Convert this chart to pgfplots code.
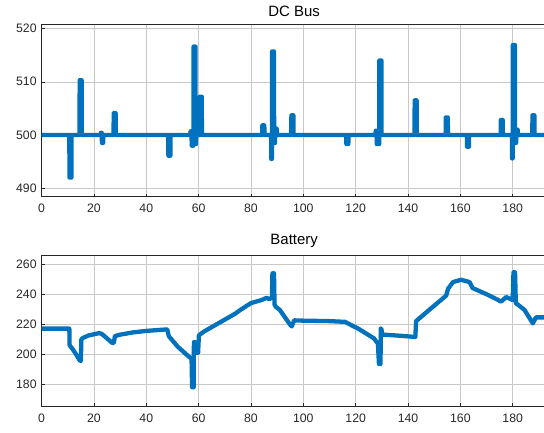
\documentclass[border=0pt]{standalone}
\usepackage{pgfplots}
\pgfplotsset{compat=1.18}
\usepackage{fontspec}
\setmainfont{Liberation Sans}
\definecolor{mblue}{RGB}{0,114,189}
\definecolor{mframe}{RGB}{38,38,38}
\definecolor{mgrid}{RGB}{200,200,200}
\pgfplotsset{
  mstyle/.style={
    scale only axis,
    width=505.1bp,
    xmin=0, xmax=193,
    xtick={0,20,...,180},
    grid=major,
    major grid style={mgrid, line width=0.5pt},
    axis line style={mframe, line width=0.5pt},
    tick style={mframe, line width=0.5pt},
    tick align=inside,
    major tick length=3bp,
    xtick pos=lower, ytick pos=left,
    tick label style={font=\fontsize{12.3}{14}\selectfont, text=mframe},
    /pgf/number format/assume math mode=true,
    /pgf/number format/1000 sep={},
    title style={font=\fontsize{15}{17}\selectfont, text=black, yshift=-2bp},
    xticklabel style={yshift=-4bp},
    yticklabel style={xshift=-1.5bp},
    clip=true,
  },
  mline/.style={mblue, line width=4.3bp, line join=round, line cap=butt},
}
\begin{document}
\begin{tikzpicture}[x=1bp,y=1bp]
\path[use as bounding box] (0,0) rectangle (544,432);
\begin{axis}[mstyle, at={(41.6bp,235.3bp)}, anchor=south west,
  height=172.4bp, ymin=488.4, ymax=520.8, ytick={490,500,510,520},
  title={DC Bus}]
\addplot[mline] coordinates {
(0,500) (10.6,500) (10.65,492.0) (11.4,492.0) (11.45,500)
(14.5,500) (14.55,510.3) (15.3,510.3) (15.35,500)
(22.6,500) (22.65,500.4) (23.0,500.4) (23.05,498.5) (23.5,498.5) (23.55,500)
(27.5,500) (27.55,504.1) (28.3,504.1) (28.35,500)
(48.4,500) (48.45,496.1) (49.2,496.1) (49.25,500)
(56.9,500) (56.95,500.7) (57.3,500.7) (57.35,498.0) (58.0,498.0) (58.05,516.6) (58.8,516.6) (58.85,498.3) (59.0,498.3) (59.05,500)
(60.4,500) (60.45,507.2) (61.2,507.2) (61.25,500)
(84.3,500) (84.35,501.8) (85.1,501.8) (85.15,500)
(87.7,500) (87.75,495.5) (88.0,495.5) (88.05,515.7) (88.8,515.7) (88.85,498.5) (89.2,498.5) (89.25,501.2) (89.8,501.2) (89.85,500)
(95.4,500) (95.45,503.7) (96.2,503.7) (96.25,500)
(116.4,500) (116.45,498.3) (117.2,498.3) (117.25,500)
(127.6,500) (127.65,500.8) (128.0,500.8) (128.05,498.3) (129.0,498.3) (129.05,514.0) (129.85,514.0) (129.9,500)
(142.5,500) (142.55,506.5) (143.3,506.5) (143.35,500)
(154.4,500) (154.45,503.3) (155.2,503.3) (155.25,500)
(162.5,500) (162.55,497.8) (163.3,497.8) (163.35,500)
(175.4,500) (175.45,502.8) (176.2,502.8) (176.25,500)
(179.7,500) (179.75,495.6) (180.0,495.6) (180.05,516.9) (180.85,516.9) (180.9,498.5) (181.3,498.5) (181.35,501) (181.9,501) (181.95,500)
(187.5,500) (187.55,503.7) (188.3,503.7) (188.35,500)
(193,500)
};
\end{axis}
\begin{axis}[mstyle, at={(41.6bp,26bp)}, anchor=south west,
  height=151bp, ymin=165.5, ymax=266, ytick={180,200,...,260},
  title={Battery}]
\addplot[mline] coordinates {
(0,217) (10.6,217) (10.7,206) (12,203) (13.5,199) (14.5,196) (15.0,195.5) (15.2,210)
(16,211) (18,212.5) (22,214) (23,213.5) (27,207.5) (27.6,207.5) (28,212)
(30,213) (35,214.5) (40,215.5) (48,216.5) (48.6,212) (52,205) (56.5,198) (57.3,197)
(57.5,178) (58.1,178) (58.2,208) (58.7,208) (58.8,201) (59.8,201) (60.1,212.5)
(62,215) (65,218) (70,223) (74,227) (76,229.5) (80,234) (84,236) (86,237.5) (87,236.5) (88.0,238)
(88.2,253.8) (88.8,253.8) (89.0,233) (89.5,231.5) (91,229.5) (95,219.5) (95.6,218.5) (96.5,222.5)
(100,222.3) (110,222) (116,221.5) (117,220.5) (121,217) (127,210.5) (128.5,207)
(128.9,193.5) (129.5,193.5) (129.6,217) (129.8,217) (130.2,213) (135,212.5) (142.5,211.5) (142.8,211.5)
(143.1,222) (148.8,230.5) (154.6,239) (155.3,243.5) (157.2,248) (160.3,249.5) (163.5,248) (164.7,244)
(170.5,239.5) (175.6,235) (177.5,238) (180,236) (180.3,254.5) (180.9,254.5) (181.2,234)
(184.5,229.5) (187.7,220.5) (188.9,224.5) (193,224.5)
};
\end{axis}
\end{tikzpicture}
\end{document}
